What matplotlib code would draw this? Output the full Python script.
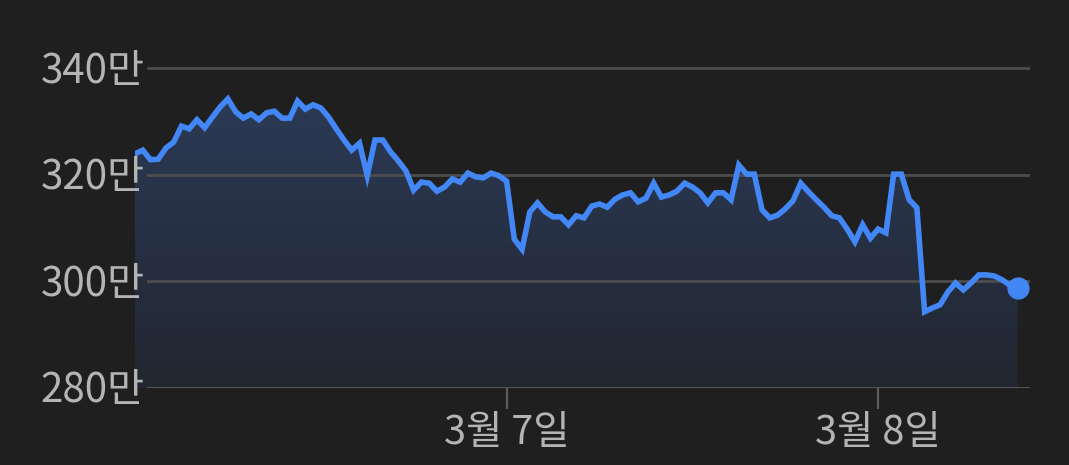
import numpy as np
import matplotlib
matplotlib.use("Agg")
import matplotlib.pyplot as plt
import matplotlib.transforms as mtransforms
from matplotlib.colors import LinearSegmentedColormap

plt.rcParams['font.family'] = ['Noto Sans CJK KR', 'DejaVu Sans']

# ---------- data (단위: 만) : 3월 6일 00:00 부터 30분 간격 ----------
prices = [
    323.9, 324.6, 322.8, 322.9, 325.0, 326.1, 329.1, 328.6, 330.3, 328.8,
    330.8, 332.7, 334.2, 331.8, 330.6, 331.4, 330.3, 331.6, 331.9, 330.6,
    330.6, 333.8, 332.3, 333.1, 332.5, 330.8, 328.6, 326.5, 324.6, 325.9,
    319.8, 326.5, 326.5, 324.3, 322.6, 320.7, 317.1, 318.6, 318.4, 316.9,
    317.7, 319.2, 318.6, 320.3, 319.6, 319.4, 320.3, 319.8, 318.8, 307.9,
    306.0, 313.0, 314.7, 313.0, 312.1, 312.1, 310.6, 312.3, 311.9, 314.1,
    314.5, 313.9, 315.4, 316.2, 316.6, 314.9, 315.6, 318.4, 315.8, 316.2,
    316.9, 318.4, 317.7, 316.6, 314.7, 316.6, 316.6, 315.3, 321.8, 320.1,
    320.1, 313.4, 311.9, 312.4, 313.6, 315.1, 318.4, 316.8, 315.3, 313.9,
    312.3, 311.9, 309.8, 307.4, 310.6, 308.1, 309.8, 309.1, 320.1, 320.1,
    315.3, 313.8, 294.3, 295.0, 295.6, 298.0, 299.7, 298.4, 299.7, 301.2,
    301.2, 301.0, 300.3, 299.3, 298.8,
]
y_ticks = [280, 300, 320, 340]
x_tick_pos = [48, 96]
x_tick_labels = ["3월 7일", "3월 8일"]

bg = "#1f1f1f"
line_color = "#4287f5"
grid_color = "#4d4d4d"
text_color = "#b4b4b4"

W, H = 1069, 465
fig = plt.figure(figsize=(W / 100, H / 100), dpi=100, facecolor=bg)
left_px, right_px, top_px, bottom_px = 135, 1030, 60, 388
ax = fig.add_axes([left_px / W, (H - bottom_px) / H,
                   (right_px - left_px) / W, (bottom_px - top_px) / H])
ax.set_facecolor(bg)

x = np.arange(len(prices))
y = np.array(prices)
px_per_step = (1017.5 - left_px) / (len(prices) - 1)
ax.set_xlim(0, (right_px - left_px) / px_per_step)
ax.set_ylim(280, 340 + 8 / 5.333)

# 그리드
grid_start = (148 - left_px) / (right_px - left_px)
for v in y_ticks:
    ax.axhline(v, xmin=grid_start, xmax=1, color=grid_color if v != 280 else "#5c5c5c",
               lw=2, zorder=1)

# 그라데이션 채우기
poly = ax.fill_between(x, y, 280, color="none", lw=0)
cmap = LinearSegmentedColormap.from_list("g", ["#222630", "#2b3a56"])
grad = np.linspace(0, 1, 256).reshape(-1, 1)
im = ax.imshow(grad, cmap=cmap, aspect="auto", origin="lower",
               extent=[0, x[-1], 280, y.max()], zorder=0.5)
im.set_clip_path(poly.get_paths()[0], transform=ax.transData)

ax.plot(x, y, color=line_color, lw=4.0, solid_joinstyle="miter", zorder=3)
ax.plot(x[-1], y[-1], "o", color=line_color, ms=15, zorder=4, clip_on=False)

# y 라벨
trans = mtransforms.blended_transform_factory(ax.transAxes, ax.transData)
trans = trans + mtransforms.ScaledTranslation(0, -3 / 100, fig.dpi_scale_trans)
for v in y_ticks:
    ax.text((145 - left_px) / (right_px - left_px), v, f"{v}만", transform=trans,
            ha="right", va="center", color=text_color, fontsize=29)

ax.set_yticks([])
ax.set_xticks(x_tick_pos)
ax.set_xticklabels(x_tick_labels)
ax.tick_params(axis="x", length=15, width=1.6, color="#5c5c5c", colors=text_color,
               labelsize=28.5, pad=3)
ax.tick_params(axis="x", color="#5c5c5c")
for s in ax.spines.values():
    s.set_visible(False)

fig.savefig("out.png", dpi=100, facecolor=bg)
